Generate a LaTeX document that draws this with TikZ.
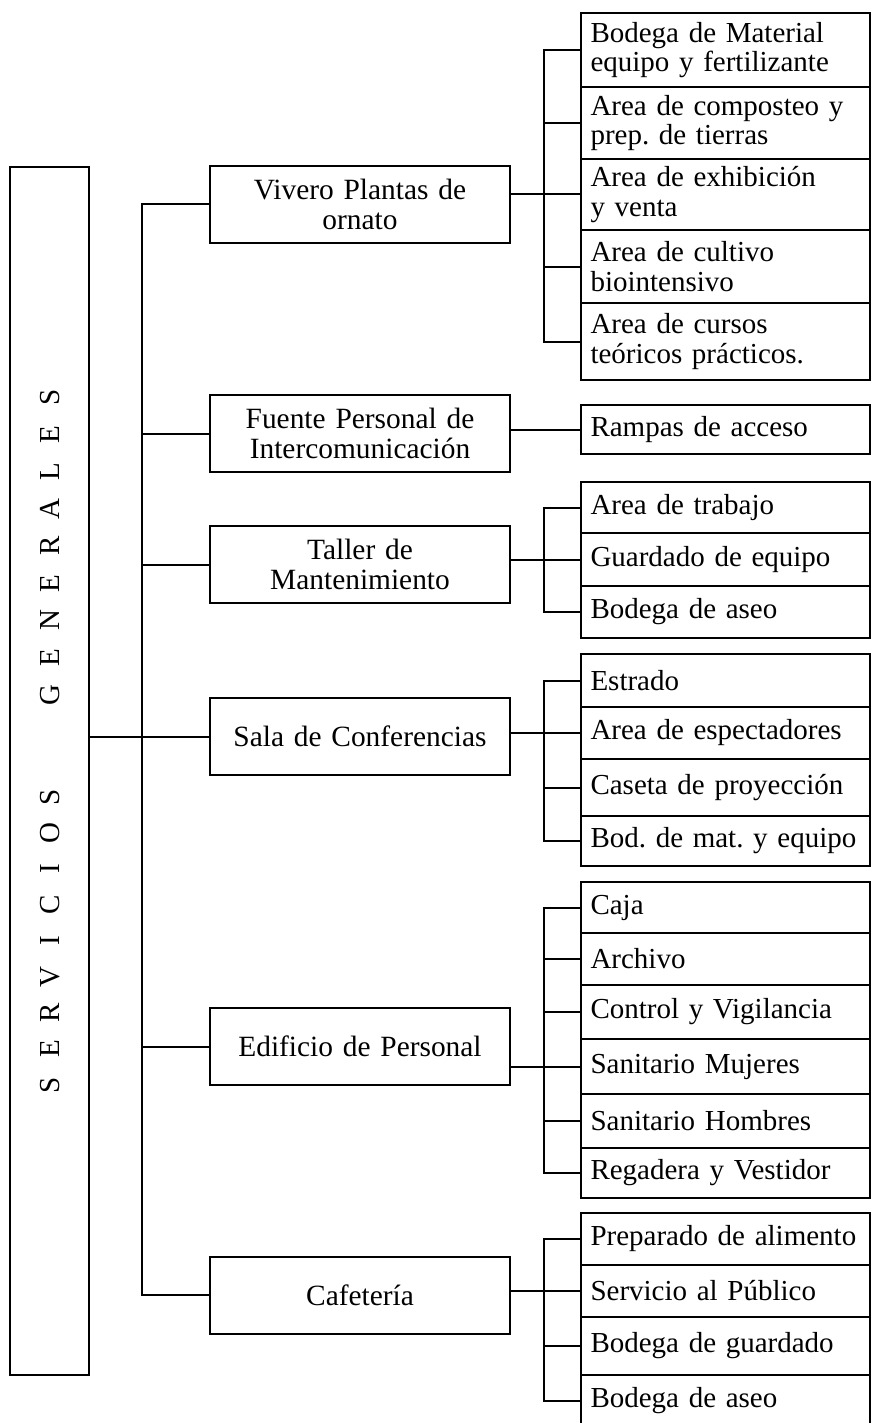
\documentclass[tikz,border=0pt]{standalone}
\usepackage{fontspec}
\setmainfont{Liberation Serif}
\usetikzlibrary{positioning}
\tikzset{
  panel/.style={draw=black,line width=1pt,minimum width=39.5pt,minimum height=604pt,inner sep=0pt},
  branch/.style={draw=black,line width=1pt,align=center,text width=142pt,inner xsep=4pt,inner ysep=0pt,minimum height=38.5pt,font=\fontsize{14.7}{15}\selectfont},
  leaf/.style={draw=black,line width=1pt,align=left,text width=135pt,inner xsep=4.75pt,inner ysep=0pt,font=\fontsize{14.5}{14.6}\selectfont\frenchspacing},
  vchar/.style={rotate=90,inner sep=0pt,font=\fontsize{14.5}{14.5}\selectfont},
  link/.style={draw=black,line width=1pt}
}

\begin{document}
\begin{tikzpicture}[x=0.5pt,y=-0.5pt]
  \useasboundingbox (0,0) rectangle (871,1423);
  % title column
  \node[panel] (servicios) at (49.5,771) {};
  \foreach \ch [count=\i from 0] in {S,E,R,V,I,C,I,O,S}
    \node[vchar] (sv\i) at (50,{1085-36*\i}) {\ch};
  \foreach \ch [count=\i from 0] in {G,E,N,E,R,A,L,E,S}
    \node[vchar] (gn\i) at (50,{695-37.25*\i}) {\ch};
  % second level
  \node[branch] (vivero) at (360,204.5) {Vivero Plantas de\\ornato};
  \node[branch] (fuente) at (360,433.5) {Fuente Personal de\\Intercomunicación};
  \node[branch] (taller) at (360,564.5) {Taller de\\Mantenimiento};
  \node[branch] (sala) at (360,736.5) {Sala de Conferencias};
  \node[branch] (edificio) at (360,1046.5) {Edificio de Personal};
  \node[branch] (cafeteria) at (360,1295) {Cafetería};
  % third level
  \node[leaf,minimum height=37pt] (bm) at (725.5,50) {Bodega de Material\\equipo y fertilizante};
  \node[leaf,minimum height=36pt] (ac) at (725.5,123) {Area de composteo y\\prep. de tierras};
  \node[leaf,minimum height=35.5pt] (ae) at (725.5,194.5) {Area de exhibición\\y venta};
  \node[leaf,minimum height=36.5pt] (cb) at (725.5,266.5) {Area de cultivo\\biointensivo};
  \node[leaf,minimum height=38.5pt] (cp) at (725.5,341.5) {Area de cursos\\teóricos prácticos.};
  \node[leaf,minimum height=24.5pt] (ra) at (725.5,429.5) {Rampas de acceso};
  \node[leaf,minimum height=25.5pt] (at) at (725.5,507.5) {Area de trabajo};
  \node[leaf,minimum height=26.5pt] (ge) at (725.5,559.5) {Guardado de equipo};
  \node[leaf,minimum height=26pt] (ba) at (725.5,612) {Bodega de aseo};
  \node[leaf,minimum height=26.5pt] (es) at (725.5,680.5) {Estrado};
  \node[leaf,minimum height=26pt] (ep) at (725.5,733) {Area de espectadores};
  \node[leaf,minimum height=28.5pt] (cy) at (725.5,787.5) {Caseta de proyección};
  \node[leaf,minimum height=25pt] (bq) at (725.5,841) {Bod. de mat. y equipo};
  \node[leaf,minimum height=25.5pt] (cj) at (725.5,907.5) {Caja};
  \node[leaf,minimum height=26pt] (ar) at (725.5,959) {Archivo};
  \node[leaf,minimum height=27pt] (cv) at (725.5,1012) {Control y Vigilancia};
  \node[leaf,minimum height=27.5pt] (sm) at (725.5,1066.5) {Sanitario Mujeres};
  \node[leaf,minimum height=27pt] (sh) at (725.5,1121) {Sanitario Hombres};
  \node[leaf,minimum height=25pt] (rv) at (725.5,1173) {Regadera y Vestidor};
  \node[leaf,minimum height=26pt] (pa) at (725.5,1239) {Preparado de alimento};
  \node[leaf,minimum height=26pt] (sp) at (725.5,1291) {Servicio al Público};
  \node[leaf,minimum height=29pt] (bg) at (725.5,1346) {Bodega de guardado};
  \node[leaf,minimum height=26pt] (bs) at (725.5,1401) {Bodega de aseo};
  % main trunk
  \draw[link] (servicios.east |- sala.west) -- (sala.west);
  \draw[link] (vivero.west) -- ++(-67,0) |- (cafeteria.west);
  \foreach \b in {fuente,taller,sala,edificio}
    \draw[link] (\b.west) -- ++(-67,0);
  % sub trunks
  \draw[link] (vivero.east |- ae.west) -- (ae.west);
  \draw[link] (bm.west) -- ++(-36,0) |- (cp.west);
  \foreach \c in {ac,cb}
    \draw[link] (\c.west) -- ++(-36,0);
  \draw[link] (fuente.east |- ra.west) -- (ra.west);
  \draw[link] (taller.east |- ge.west) -- (ge.west);
  \draw[link] (at.west) -- ++(-36,0) |- (ba.west);
  \draw[link] (sala.east |- ep.west) -- (ep.west);
  \draw[link] (es.west) -- ++(-36,0) |- (bq.west);
  \draw[link] (cy.west) -- ++(-36,0);
  \draw[link] (edificio.east |- sm.west) -- (sm.west);
  \draw[link] (cj.west) -- ++(-36,0) |- (rv.west);
  \foreach \c in {ar,cv,sh}
    \draw[link] (\c.west) -- ++(-36,0);
  \draw[link] (cafeteria.east |- sp.west) -- (sp.west);
  \draw[link] (pa.west) -- ++(-36,0) |- (bs.west);
  \draw[link] (bg.west) -- ++(-36,0);
\end{tikzpicture}
\end{document}
